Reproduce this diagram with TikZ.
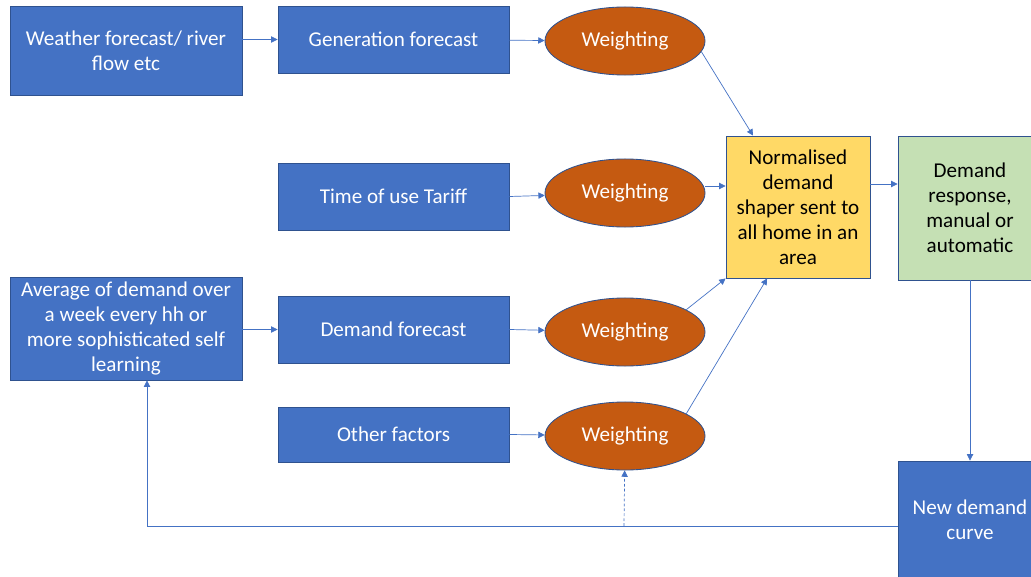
\documentclass[tikz,border=0pt]{standalone}
\usepackage{fontspec}
\setmainfont{Carlito}
\usetikzlibrary{arrows.meta,shapes.geometric}
\definecolor{boxblue}{HTML}{4472C4}
\definecolor{edgeblue}{HTML}{2F528F}
\definecolor{weightorange}{HTML}{C55A11}
\definecolor{shaperyellow}{HTML}{FFD966}
\definecolor{responsegreen}{HTML}{C5E0B4}
\tikzset{
  inbox/.style={rectangle, draw=edgeblue, fill=boxblue, text=white, line width=0.6pt, align=center, inner sep=2pt},
  weight/.style={ellipse, draw=edgeblue, fill=weightorange, text=white, line width=0.6pt, minimum width=4cm, minimum height=1.7cm},
  flow/.style={draw=boxblue, line width=0.5pt, -{Triangle[length=4.5pt,width=4.5pt]}}
}
\begin{document}
\begin{tikzpicture}[x=0.025cm, y=-0.025cm, font=\fontsize{15}{17.8}\selectfont]
    \useasboundingbox (0,0) rectangle (1031,577);
    \node[inbox, minimum width=5.8cm, minimum height=2.225cm] (weather) at (126,50.5) {Weather forecast/ river\\flow etc};
    \node[inbox, minimum width=5.775cm, minimum height=1.675cm] (gen) at (393.5,39.5) {Generation forecast};
    \node[inbox, minimum width=5.775cm, minimum height=1.675cm] (tariff) at (393.5,196.5) {Time of use Tariff};
    \node[inbox, minimum width=5.8cm, minimum height=2.575cm] (avg) at (126,328.5) {Average of demand over\\a week every hh or\\more sophisticated self\\learning};
    \node[inbox, minimum width=5.775cm, minimum height=1.675cm] (dem) at (393.5,329.5) {Demand forecast};
    \node[inbox, minimum width=5.775cm, minimum height=1.375cm] (other) at (393.5,434.5) {Other factors};
    \node[weight] (w1) at (625,41) {Weighting};
    \node[weight] (w2) at (625,193) {Weighting};
    \node[weight] (w3) at (625,332) {Weighting};
    \node[weight] (w4) at (625,436) {Weighting};
    \node[rectangle, draw=edgeblue, fill=shaperyellow, line width=0.6pt, minimum width=3.6cm, minimum height=3.55cm, align=center] (shaper) at (798,207) {Normalised\\demand\\shaper sent to\\all home in an\\area};
    \node[rectangle, draw=edgeblue, fill=responsegreen, line width=0.6pt, minimum width=3.6cm, minimum height=3.6cm, align=center] (resp) at (970,208) {Demand\\response,\\manual or\\automatic};
    \node[inbox, minimum width=3.6cm, minimum height=2.95cm] (curve) at (970,520) {New demand\\curve};
    \coordinate (fb) at (147,526);
    \coordinate (tap) at (624,526);
    % inputs to weightings
    \draw[flow] (weather.east |- gen) -- (gen);
    \draw[flow] (gen) -- (w1);
    \draw[flow] (tariff.east) -- (w2);
    \draw[flow] (avg.east |- dem) -- (dem);
    \draw[flow] (dem.east) -- (w3);
    \draw[flow] (other.east) -- (w4);
    % weightings to shaper
    \draw[flow] (w1.-8) -- ([xshift=-32]shaper.north);
    \draw[flow] (w2.east |- 0,186) -- (shaper.west |- 0,186);
    \draw[flow] (w3.20) -- (shaper.south west);
    \draw[flow] (w4.20) -- ([xshift=-22]shaper.south);
    \draw[flow] (shaper.east |- 0,184) -- (resp.west |- 0,184);
    \draw[flow] (resp) -- (curve);
    % feedback
    \draw[flow] (curve.west |- fb) -- (fb) -- (avg.south -| fb);
    \draw[flow, dash pattern=on 2pt off 1.5pt] (tap) -- (w4);
\end{tikzpicture}
\end{document}
